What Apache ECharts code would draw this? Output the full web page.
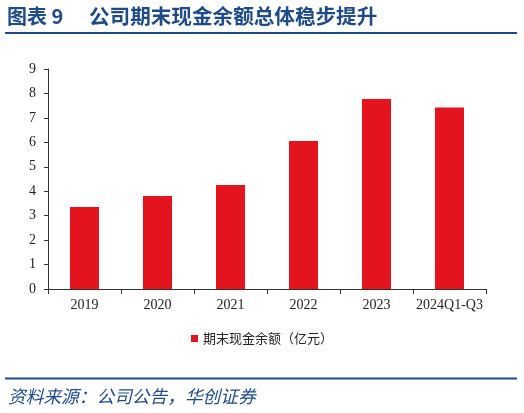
<!DOCTYPE html>
<html><head><meta charset="utf-8">
<script src="https://cdn.jsdelivr.net/npm/echarts@6/dist/echarts.min.js"></script>
<style>html,body{margin:0;padding:0;background:#fff}#c{width:524px;height:413px}</style>
</head><body><div id="c"></div>
<script>
const categories = ['2019','2020','2021','2022','2023','2024Q1-Q3'];
const cashBalance = [3.35, 3.80, 4.25, 6.05, 7.77, 7.43];
const seriesName = '期末现金余额（亿元）';
const yTicks = {min:0, max:9, interval:1};
const titleLabel = '图表 9';
const titleText = '公司期末现金余额总体稳步提升';
const sourceText = '资料来源：公司公告，华创证券';

const chart = echarts.init(document.getElementById('c'), null, {renderer:'canvas'});
const blue = '#1F4A88';
chart.setOption({
  animation:false,
  backgroundColor:'#fff',
  grid:{left:48, right:38, top:69, bottom:124},
  legend:{
    data:[seriesName], bottom:63, left:'center',
    itemWidth:7, itemHeight:7, icon:'rect', itemGap:4,
    textStyle:{fontSize:13, color:'#222', fontFamily:'Noto Sans CJK SC'}
  },
  xAxis:{
    type:'category', data:categories,
    axisLine:{lineStyle:{color:'#333', width:1}},
    axisTick:{show:true, length:5, lineStyle:{color:'#333'}},
    axisLabel:{interval:0, fontSize:14, color:'#222', fontFamily:'Liberation Serif', margin:9}
  },
  yAxis:{
    type:'value', min:yTicks.min, max:yTicks.max, interval:yTicks.interval,
    splitLine:{show:false},
    axisLine:{show:true, lineStyle:{color:'#333', width:1}},
    axisTick:{show:true, length:4, lineStyle:{color:'#333'}},
    axisLabel:{fontSize:14, color:'#222', fontFamily:'Liberation Serif', margin:12}
  },
  series:[{
    name:seriesName, type:'bar', data:cashBalance,
    barWidth:29,
    itemStyle:{color:'#E3141E'}
  }],
  graphic:[
    {type:'text', left:7, top:6, style:{text:titleLabel, fontSize:20, fontWeight:'bold', fill:blue, fontFamily:'Noto Sans CJK SC'}},
    {type:'text', left:89, top:5.5, style:{text:titleText, fontSize:20.6, fontWeight:'bold', fill:blue, fontFamily:'Noto Sans CJK SC'}},
    {type:'rect', shape:{x:5, y:32, width:512, height:2}, style:{fill:blue}},
    {type:'rect', shape:{x:5, y:377.5, width:512, height:2}, style:{fill:blue}},
    {type:'text', left:8, top:387, style:{text:sourceText, fontSize:17.7, fontStyle:'italic', fill:blue, fontFamily:'Noto Sans CJK SC'}}
  ]
});
</script></body></html>
